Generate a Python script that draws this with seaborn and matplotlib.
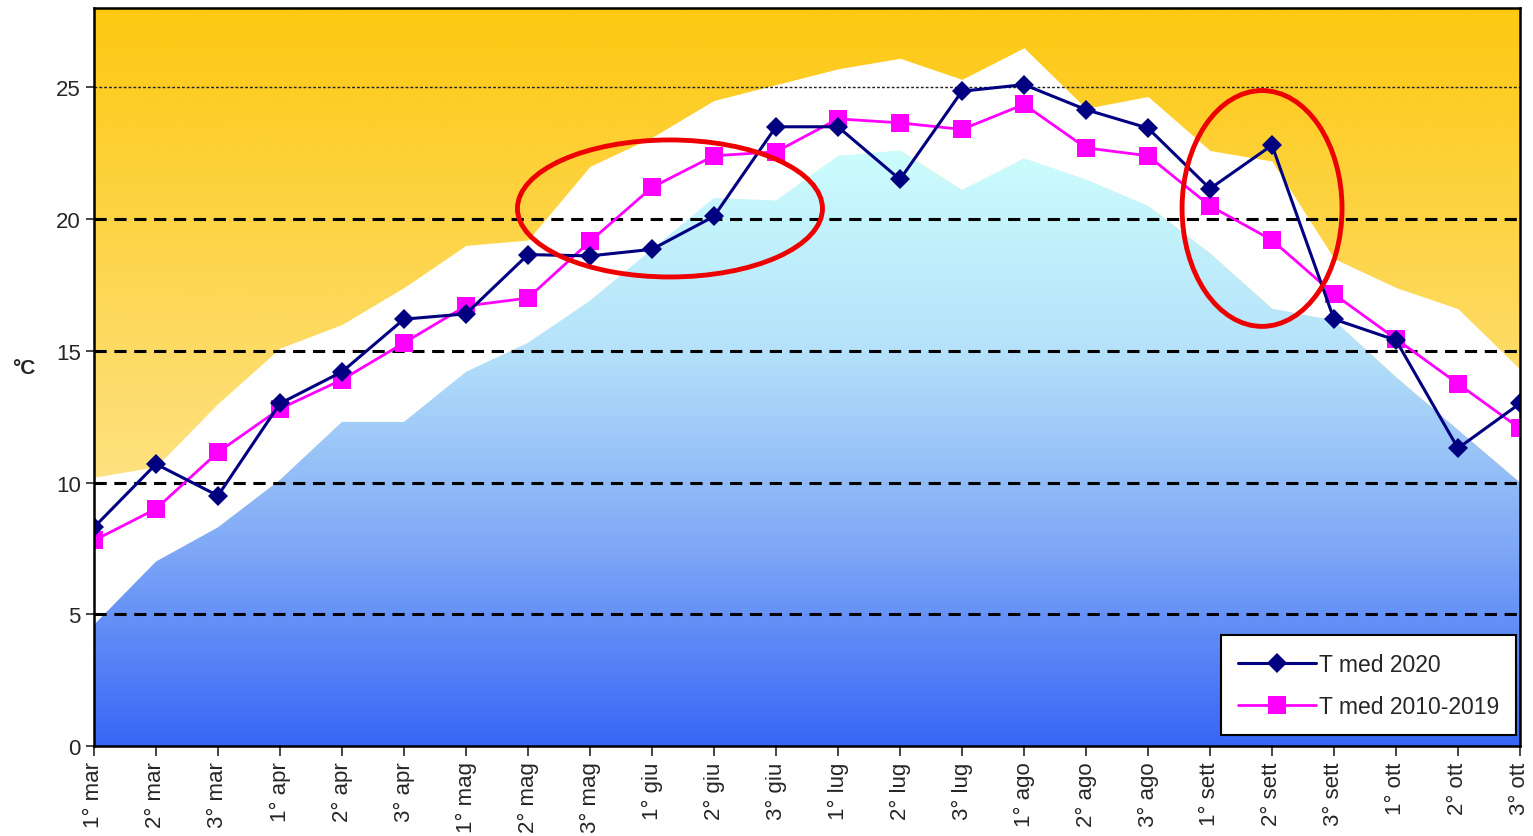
import numpy as np
import pandas as pd
import seaborn as sns
import matplotlib.pyplot as plt
from matplotlib.colors import LinearSegmentedColormap
from matplotlib.patches import Polygon, Ellipse

# Decades, March to October
decades = ['1° mar', '2° mar', '3° mar', '1° apr', '2° apr', '3° apr',
           '1° mag', '2° mag', '3° mag', '1° giu', '2° giu', '3° giu',
           '1° lug', '2° lug', '3° lug', '1° ago', '2° ago', '3° ago',
           '1° sett', '2° sett', '3° sett', '1° ott', '2° ott', '3° ott']

t_2020 = [8.3, 10.7, 9.5, 13.0, 14.2, 16.2, 16.4, 18.65, 18.6, 18.85, 20.1, 23.5,
          23.5, 21.5, 24.85, 25.1, 24.15, 23.45, 21.15, 22.8, 16.2, 15.4, 11.3, 13.0]
t_2010_2019 = [7.8, 9.0, 11.15, 12.8, 13.9, 15.3, 16.7, 17.0, 19.15, 21.2, 22.4, 22.55,
               23.8, 23.65, 23.4, 24.35, 22.7, 22.4, 20.5, 19.2, 17.15, 15.45, 13.75, 12.05]

# Envelope of the reference band (upper / lower)
upper = [10.2, 10.6, 13.0, 15.1, 16.0, 17.4, 19.0, 19.2, 22.0, 23.1, 24.5, 25.1,
         25.7, 26.1, 25.3, 26.5, 24.2, 24.65, 22.6, 22.2, 18.5, 17.4, 16.6, 14.3]
lower = [4.6, 7.0, 8.3, 10.1, 12.3, 12.3, 14.2, 15.3, 16.9, 18.85, 20.8, 20.7,
         22.4, 22.6, 21.1, 22.3, 21.5, 20.5, 18.7, 16.6, 16.15, 14.0, 12.0, 10.0]

x = np.arange(len(decades))
df = pd.DataFrame({'pos': x, 't2020': t_2020, 't1019': t_2010_2019})

sns.set_style('white')
plt.rcParams['font.family'] = ['Liberation Sans', 'DejaVu Sans']

fig = plt.figure(figsize=(15.33, 8.37), dpi=100)
ax = fig.add_axes([0.0613, 0.1075, 0.9302, 0.8815])
ymax = 28
ax.set_xlim(0, len(decades) - 1)
ax.set_ylim(0, ymax)

# Orange gradient background (whole plot area)
orange = LinearSegmentedColormap.from_list('orng', ['#FFF2B8', '#FDDC6A', '#FDC912'])
grad = np.linspace(0, 1, 256).reshape(-1, 1)
ax.imshow(grad, cmap=orange, origin='lower', aspect='auto',
          extent=[0, len(decades) - 1, 0, ymax], zorder=0)

# White band between envelopes
ax.fill_between(x, lower, upper, color='white', lw=0, zorder=1)

# Blue gradient below the lower envelope
blue = LinearSegmentedColormap.from_list('blu', ['#3766F7', '#7FA8F6', '#B5E2FA', '#CCFDFD'])
blue_img = ax.imshow(grad, cmap=blue, origin='lower', aspect='auto',
                     extent=[0, len(decades) - 1, 0, max(lower)], zorder=1)
verts = [(0, 0)] + list(zip(x, lower)) + [(len(decades) - 1, 0)]
clip = Polygon(verts, closed=True, transform=ax.transData, fc='none', ec='none')
ax.add_patch(clip)
blue_img.set_clip_path(clip)

# Horizontal reference lines
for yv in [5, 10, 15, 20]:
    ax.axhline(yv, color='black', ls=(0, (4, 2.5)), lw=2.2, zorder=2)
ax.axhline(25, color='#222222', ls=(0, (2, 1.5)), lw=1, zorder=2)

# Series
sns.lineplot(data=df, x='pos', y='t1019', ax=ax, color='#FF00FF', lw=2,
             marker='s', markersize=13, markeredgewidth=0, label='T med 2010-2019', zorder=4)
sns.lineplot(data=df, x='pos', y='t2020', ax=ax, color='#000080', lw=2.2,
             marker='D', markersize=10, markeredgewidth=0, label='T med 2020', zorder=5)

# Red highlight ellipses
ax.add_patch(Ellipse((9.29, 20.4), 4.92, 5.2, fill=False, ec='#EE0000', lw=3.5, zorder=6))
ax.add_patch(Ellipse((18.84, 20.4), 2.58, 8.95, fill=False, ec='#EE0000', lw=3.5, zorder=6))

# Axes styling
ax.set_xticks(x)
ax.set_xticklabels(decades, rotation=90, fontsize=16)
ax.set_yticks([0, 5, 10, 15, 20, 25])
ax.tick_params(axis='y', labelsize=16, length=6, width=1.2, direction='out', left=True)
ax.tick_params(axis='x', length=7, width=1.2, direction='out', bottom=True, pad=4)
ax.set_xlabel('')
ax.set_ylabel('°C', rotation=0, fontsize=15, fontweight='bold')
ax.yaxis.set_label_coords(-0.049, 0.5)
for side in ['left', 'bottom', 'top', 'right']:
    ax.spines[side].set_color('black')
    ax.spines[side].set_linewidth(1.8)
    ax.spines[side].set_zorder(7)

handles, labels = ax.get_legend_handles_labels()
leg = ax.legend(handles[::-1], labels[::-1], loc='lower right',
                bbox_to_anchor=(0.9972, 0.0145), fontsize=16.5, frameon=True,
                fancybox=False, framealpha=1, edgecolor='black', handlelength=3.4,
                borderpad=0.75, labelspacing=0.85, handletextpad=0.1, borderaxespad=0)
leg.get_frame().set_linewidth(1.5)
leg.set_zorder(8)

plt.savefig('out.png', dpi=100)
